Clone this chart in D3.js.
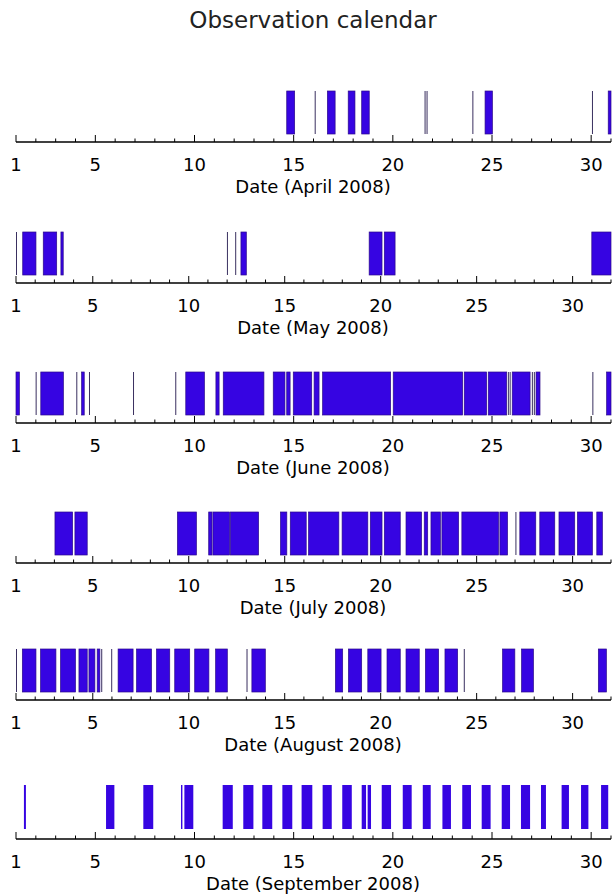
<!DOCTYPE html>
<html>
<head>
<meta charset="utf-8">
<script src="https://cdn.jsdelivr.net/npm/d3@7"></script>
<style>
  html, body { margin: 0; padding: 0; background: #fff; }
  svg { display: block; }
</style>
</head>
<body>
<div id="chart"></div>
<script>
// ---- Data (day-of-month intervals [start, end]) ----
const chartTitle = "Observation calendar";
const months = ["April", "May", "June", "July", "August", "September"];
const monthDays = [30, 31, 30, 31, 31, 30];
const year = 2008;
const majorTicks = [1, 5, 10, 15, 20, 25, 30];

const aprilObs = [
  [14.65, 15.05], [16.06, 16.10], [16.70, 17.09], [17.75, 18.09], [18.43, 18.81],
  [21.60, 21.64], [21.70, 21.74], [24.01, 24.05], [24.65, 25.02], [30.04, 30.08],
  [30.86, 31.0]
];
const mayObs = [
  [1.0, 1.03], [1.35, 2.04], [2.42, 3.12], [3.34, 3.46], [11.99, 12.03],
  [12.42, 12.46], [12.72, 13.0], [19.40, 20.07], [20.19, 20.75], [31.0, 32.0]
];
const juneObs = [
  [1.0, 1.17], [1.99, 2.03], [2.25, 3.39], [4.04, 4.08], [4.31, 4.44], [4.68, 4.72],
  [6.90, 6.94], [9.03, 9.07], [9.56, 10.50], [11.08, 11.24], [11.45, 13.50],
  [13.97, 14.56], [14.65, 14.82], [14.98, 15.91], [16.03, 16.28], [16.46, 19.89],
  [20.02, 23.52], [23.60, 24.73], [24.81, 25.74], [25.80, 25.85], [25.89, 25.94],
  [26.02, 26.92], [27.01, 27.05], [27.11, 27.15], [27.22, 27.42], [30.06, 30.10],
  [30.78, 31.0]
];
const julyObs = [
  [3.03, 3.95], [4.07, 4.71], [9.41, 10.40], [11.04, 11.21], [11.26, 12.13],
  [12.17, 13.64], [14.78, 15.11], [15.29, 16.12], [16.24, 17.82], [17.99, 19.33],
  [19.46, 20.07], [20.19, 21.02], [21.32, 22.13], [22.27, 22.45], [22.62, 23.11],
  [23.19, 24.06], [24.23, 26.14], [26.21, 26.61], [27.02, 27.06], [27.25, 28.08],
  [28.29, 29.07], [29.29, 30.11], [30.25, 31.03], [31.26, 31.55]
];
const augustObs = [
  [1.0, 1.03], [1.33, 2.04], [2.28, 3.08], [3.32, 4.10], [4.28, 4.71], [4.80, 5.11],
  [5.23, 5.37], [5.44, 5.48], [5.96, 6.00], [6.32, 7.10], [7.28, 8.06], [8.32, 9.01],
  [9.27, 10.05], [10.31, 11.05], [11.40, 12.01], [13.01, 13.05], [13.29, 13.99],
  [17.64, 18.02], [18.32, 19.01], [19.33, 20.02], [20.33, 21.02], [21.32, 22.01],
  [22.33, 23.02], [23.35, 24.01], [24.33, 24.37], [26.35, 26.99], [27.34, 27.96],
  [31.34, 31.76]
];
const septemberObs = [
  [1.40, 1.50], [5.54, 5.96], [7.42, 7.92], [9.32, 9.39], [9.49, 9.94],
  [11.42, 11.93], [12.46, 12.97], [13.42, 13.92], [14.43, 14.93], [15.40, 15.94],
  [16.46, 16.92], [17.45, 17.93], [18.43, 18.65], [18.73, 18.90], [19.44, 19.91],
  [20.50, 20.95], [21.51, 21.91], [22.50, 22.93], [23.50, 23.94], [24.48, 24.93],
  [25.49, 25.91], [26.46, 26.92], [27.47, 27.72], [28.51, 28.88], [29.49, 29.86],
  [30.50, 30.86]
];
const observations = [aprilObs, mayObs, juneObs, julyObs, augustObs, septemberObs];

// ---- Layout ----
const W = 612, H = 895;
const axisY = [142, 283, 423, 563, 700, 839];
const barFill = "#3604e2";

const svg = d3.select("#chart").append("svg")
  .attr("width", W).attr("height", H)
  .attr("viewBox", `0 0 ${W} ${H}`);

svg.append("text")
  .attr("x", 313).attr("y", 28)
  .attr("text-anchor", "middle")
  .attr("font-family", "DejaVu Sans, sans-serif")
  .attr("font-size", 23)
  .attr("fill", "#222")
  .text(chartTitle);

months.forEach((m, i) => {
  const ay = axisY[i];
  const last = i === 5;
  const x = d3.scaleLinear().domain([1, monthDays[i] + 1]).range([16, 611]);
  const y = d3.scaleLinear().domain([0, 1]).range(last ? [ay - 10, ay - 54] : [ay - 8, ay - 51]);
  const g = svg.append("g");

  const thin = d => !last && (d[1] - d[0]) < 0.06;

  g.selectAll("rect.obs").data(observations[i]).join("rect")
    .attr("class", "obs")
    .attr("x", d => x(d[0]))
    .attr("width", d => Math.max(1, x(d[1]) - x(d[0])))
    .attr("y", y(1))
    .attr("height", y(0) - y(1))
    .attr("fill", d => thin(d) ? "#3a3060" : barFill)
    .attr("stroke", d => last || thin(d) ? "none" : "#2c0a8a")
    .attr("stroke-width", 0.7);

  // axis line
  g.append("line")
    .attr("x1", x(1)).attr("x2", x(monthDays[i] + 1))
    .attr("y1", ay).attr("y2", ay)
    .attr("stroke", "#000").attr("stroke-width", 1.3);

  // ticks (pointing up)
  const days = d3.range(1, monthDays[i] + 2);
  g.selectAll("line.tick").data(days).join("line")
    .attr("class", "tick")
    .attr("x1", d => x(d)).attr("x2", d => x(d))
    .attr("y1", ay)
    .attr("y2", d => majorTicks.includes(d) ? ay - 7 : ay - 3.5)
    .attr("stroke", "#000").attr("stroke-width", 1);

  g.selectAll("text.tl").data(majorTicks).join("text")
    .attr("class", "tl")
    .attr("x", d => x(d)).attr("y", ay + 29)
    .attr("text-anchor", "middle")
    .attr("font-family", "DejaVu Sans, sans-serif")
    .attr("font-size", 18)
    .attr("fill", "#000")
    .text(d => d);

  g.append("text")
    .attr("x", 313).attr("y", ay + 51)
    .attr("text-anchor", "middle")
    .attr("font-family", "DejaVu Sans, sans-serif")
    .attr("font-size", 18)
    .attr("fill", "#000")
    .text(`Date (${m} ${year})`);
});
</script>
</body>
</html>
